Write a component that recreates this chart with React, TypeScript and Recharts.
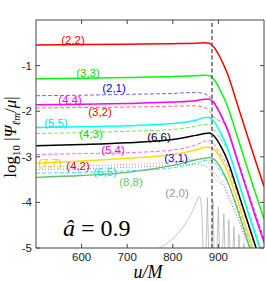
import React from "react";
import { LineChart, Line, XAxis, YAxis, ReferenceLine } from "recharts";

const U = [500, 600, 700, 800, 850, 870, 880, 890, 900, 910, 920, 940, 960, 980, 1000];

const s22 = [-0.55, -0.54, -0.53, -0.52, -0.51, -0.5, -0.51, -0.59, -0.75, -0.95, -1.18, -1.8, -2.43, -3.05, -3.65];
const s33 = [-1.29, -1.28, -1.26, -1.24, -1.22, -1.21, -1.22, -1.3, -1.46, -1.66, -1.89, -2.51, -3.14, -3.76, -4.36];
const s44 = [-1.86, -1.85, -1.83, -1.8, -1.77, -1.74, -1.74, -1.82, -1.98, -2.18, -2.41, -3.03, -3.66, -4.28, -4.88];
const s55 = [-2.36, -2.34, -2.32, -2.27, -2.2, -2.14, -2.14, -2.22, -2.38, -2.58, -2.81, -3.43, -4.06, -4.68, -5.28];
const s66 = [-2.76, -2.73, -2.69, -2.62, -2.53, -2.49, -2.48, -2.54, -2.68, -2.86, -3.08, -3.68, -4.3, -4.92, -5.52];
const s77 = [-3.14, -3.09, -3.03, -2.95, -2.85, -2.79, -2.79, -2.83, -2.95, -3.12, -3.33, -3.9, -4.52, -5.14, -5.74];
const s88 = [-3.45, -3.41, -3.34, -3.19, -3.07, -3.03, -3.02, -3.05, -3.16, -3.33, -3.54, -4.1, -4.72, -5.34, -5.94];
const s21 = [-1.66, -1.65, -1.63, -1.61, -1.59, -1.62, -1.68, -1.78, -1.95, -2.15, -2.38, -2.98, -3.6, -4.2, -4.8];
const s32 = [-1.93, -1.92, -1.91, -1.89, -1.88, -1.92, -2.0, -2.12, -2.2, -2.24, -2.42, -3.02, -3.64, -4.24, -4.84];
const s43 = [-2.49, -2.47, -2.44, -2.4, -2.33, -2.29, -2.3, -2.4, -2.55, -2.68, -2.85, -3.4, -4.0, -4.6, -5.2];
const s54 = [-2.95, -2.93, -2.91, -2.85, -2.74, -2.66, -2.64, -2.72, -2.88, -3.02, -3.2, -3.75, -4.35, -4.95, -5.55];
const s65 = [-3.36, -3.34, -3.31, -3.24, -3.14, -3.08, -3.07, -3.12, -3.25, -3.4, -3.55, -4.05, -4.62, -5.22, -5.8];
const s42 = [-3.22, -3.2, -3.17, -3.12, -3.05, -3.05, -3.15, -3.35, -3.45, -3.55, -3.8, -4.25, -4.8, -5.3, -5.9];
const s31 = [-3.28, -3.26, -3.23, -3.19, -3.17, -3.2, -3.28, -3.45, -3.55, -3.62, -3.85, -4.3, -4.8, -5.3, -5.8];

const U20 = [760, 780, 800, 820, 835, 845, 852, 857, 861, 864, 867, 872, 876, 879, 884, 888, 891, 896, 900, 903, 908, 912, 915, 920, 923, 926, 931, 934, 937, 942, 945, 948, 953, 956, 959];
const s20 = [-5.05, -4.95, -4.8, -4.58, -4.35, -4.15, -3.98, -3.88, -3.9, -4.3, -5.3, -5.3, -3.9, -5.3, -5.3, -3.98, -5.3, -5.3, -4.1, -5.3, -5.3, -4.25, -5.3, -5.3, -4.38, -5.3, -5.3, -4.52, -5.3, -5.3, -4.7, -5.3, -5.3, -4.9, -5.3];

const MERGER_U = 886;
const X_TICKS = [600, 700, 800, 900];
const Y_TICKS = [-5, -4, -3, -2, -1];

const mk = (xs: number[], ys: number[]) => xs.map((u, i) => ({ u, v: ys[i] }));

type S = { name: string; vals: number[]; color: string; w: number; dash?: string };
const SERIES: S[] = [
  { name: "(2,0)", vals: [], color: "#aaaaaa", w: 0.7 },
  { name: "(3,1)", vals: s31, color: "#8080ff", w: 1, dash: "1 2" },
  { name: "(4,2)", vals: s42, color: "#ff8080", w: 1, dash: "1 2" },
  { name: "(6,5)", vals: s65, color: "#33eeee", w: 1, dash: "4 2" },
  { name: "(5,4)", vals: s54, color: "#ff66ff", w: 1, dash: "4 2" },
  { name: "(4,3)", vals: s43, color: "#66ee66", w: 1, dash: "4 2" },
  { name: "(3,2)", vals: s32, color: "#ff7070", w: 1, dash: "4 2" },
  { name: "(2,1)", vals: s21, color: "#6b6bff", w: 1, dash: "4 2" },
  { name: "(8,8)", vals: s88, color: "#66bb66", w: 1.3 },
  { name: "(7,7)", vals: s77, color: "#ffdd00", w: 1.5 },
  { name: "(6,6)", vals: s66, color: "#000000", w: 1.5 },
  { name: "(5,5)", vals: s55, color: "#00ffff", w: 1.5 },
  { name: "(4,4)", vals: s44, color: "#ff00ff", w: 1.5 },
  { name: "(3,3)", vals: s33, color: "#00ff00", w: 1.5 },
  { name: "(2,2)", vals: s22, color: "#ff0000", w: 1.5 },
];

const LABELS: { t: string; x: number; y: number; c: string }[] = [
  { t: "(2,2)", x: 73, y: 40, c: "#ff0000" },
  { t: "(3,3)", x: 88, y: 73, c: "#00dd00" },
  { t: "(2,1)", x: 114, y: 88, c: "#0000ff" },
  { t: "(4,4)", x: 70, y: 100, c: "#ff00ff" },
  { t: "(3,2)", x: 100, y: 112, c: "#ff0000" },
  { t: "(5,5)", x: 56, y: 123, c: "#00e0f0" },
  { t: "(4,3)", x: 91, y: 134, c: "#00dd00" },
  { t: "(6,6)", x: 159, y: 137, c: "#000000" },
  { t: "(5,4)", x: 113, y: 150, c: "#ff00ff" },
  { t: "(7,7)", x: 50, y: 163, c: "#f0c800" },
  { t: "(4,2)", x: 78, y: 166, c: "#ff0000" },
  { t: "(6,5)", x: 105, y: 172, c: "#00e0f0" },
  { t: "(8,8)", x: 131, y: 182, c: "#6dbf6d" },
  { t: "(3,1)", x: 176, y: 158, c: "#0000ff" },
  { t: "(2,0)", x: 177, y: 193, c: "#999999" },
];

const AX = "#444";
const SANS = "Liberation Sans, Arial, sans-serif";
const SERIF = "Liberation Serif, Times New Roman, serif";

const BottomTick = (p: any) => (
  <g>
    <line x1={p.x} x2={p.x} y1={248} y2={244} stroke={AX} />
    <text x={p.x} y={261} textAnchor="middle" fontSize={11.5} fontFamily={SANS} fill="#222">
      {p.payload.value}
    </text>
  </g>
);
const TopTick = (p: any) => <line x1={p.x} x2={p.x} y1={20} y2={24} stroke={AX} />;
const LeftTick = (p: any) => (
  <g>
    <line x1={36} x2={40} y1={p.y} y2={p.y} stroke={AX} />
    <text x={32} y={p.y} dy="0.35em" textAnchor="end" fontSize={11.5} fontFamily={SANS} fill="#222">
      {p.payload.value}
    </text>
  </g>
);
const RightTick = (p: any) => <line x1={264} x2={260} y1={p.y} y2={p.y} stroke={AX} />;

export default function App() {
  return (
    <div style={{ position: "absolute", left: 0, top: 0, width: 266, height: 281, background: "#fff" }}>
      <LineChart width={266} height={281} margin={{ top: 19, right: 1, bottom: 0, left: 0 }}>
        <XAxis xAxisId="b" orientation="bottom" type="number" dataKey="u" domain={[500, 1000]} ticks={X_TICKS} height={33} tickLine={false} tick={BottomTick} axisLine={{ stroke: AX }} allowDataOverflow />
        <XAxis xAxisId="t" orientation="top" type="number" dataKey="u" domain={[500, 1000]} ticks={X_TICKS} height={1} tickLine={false} tick={TopTick} axisLine={{ stroke: AX }} allowDataOverflow />
        <YAxis yAxisId="l" orientation="left" type="number" domain={[-5, 0]} ticks={Y_TICKS} width={36} tickLine={false} tick={LeftTick} axisLine={{ stroke: AX }} allowDataOverflow />
        <YAxis yAxisId="r" orientation="right" type="number" domain={[-5, 0]} ticks={Y_TICKS} width={1} tickLine={false} tick={RightTick} axisLine={{ stroke: AX }} allowDataOverflow />
        {SERIES.map((s) => (
          <Line
            key={s.name}
            xAxisId="b"
            yAxisId="l"
            data={s.name === "(2,0)" ? mk(U20, s20) : mk(U, s.vals)}
            dataKey="v"
            type={s.name === "(2,0)" ? "linear" : "monotone"}
            stroke={s.color}
            strokeWidth={s.w}
            strokeDasharray={s.dash}
            dot={false}
            isAnimationActive={false}
          />
        ))}
        <Line xAxisId="t" yAxisId="r" data={mk(U, s22)} dataKey="v" stroke="none" dot={false} isAnimationActive={false} />
        <ReferenceLine xAxisId="b" yAxisId="l" x={MERGER_U} stroke="#555" strokeWidth={1.4} strokeDasharray="4 2.5" />
      </LineChart>
      <svg width={266} height={281} style={{ position: "absolute", left: 0, top: 0, pointerEvents: "none" }}>
        {LABELS.map((l) => (
          <text key={l.t} x={l.x} y={l.y} dy="0.35em" textAnchor="middle" fontSize={11.5} fontFamily={SANS} fill={l.c}>
            {l.t}
          </text>
        ))}
        <text x={63} y={236} fontSize={24} fontFamily={SERIF} fill="#000">
          <tspan fontStyle="italic">â</tspan> = 0.9
        </text>
        <text x={148} y={278} textAnchor="middle" fontSize={18} fontFamily={SERIF} fontStyle="italic" fill="#000">
          u/M
        </text>
        <text transform="translate(16,137) rotate(-90)" textAnchor="middle" fontSize={17} fontFamily={SERIF} fill="#000">
          log<tspan fontSize={11} dy={4}>10</tspan>
          <tspan dy={-4}> |</tspan>
          <tspan fontStyle="italic">Ψ</tspan>
          <tspan fontSize={11} dy={4} fontStyle="italic">ℓm</tspan>
          <tspan dy={-4}>/</tspan>
          <tspan fontStyle="italic">μ</tspan>|
        </text>
      </svg>
    </div>
  );
}
